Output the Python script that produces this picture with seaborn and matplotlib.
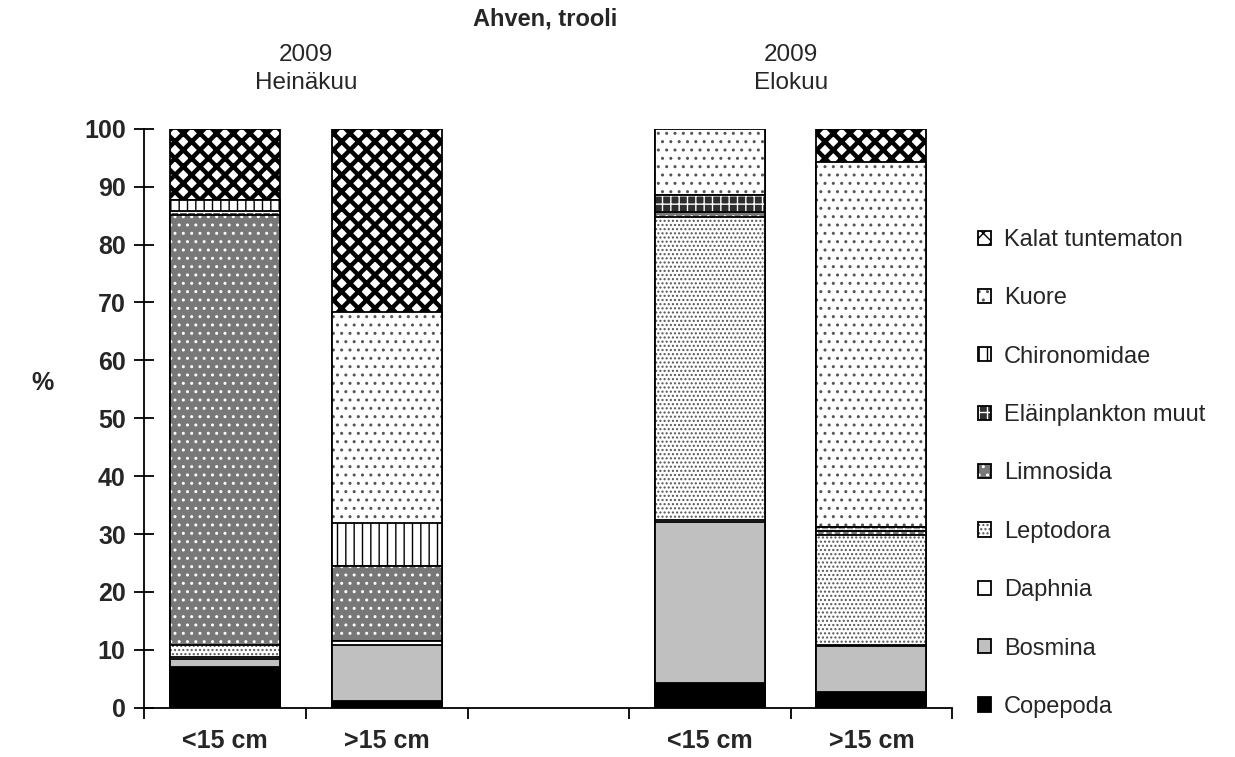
import matplotlib
matplotlib.use("Agg")
import matplotlib.pyplot as plt
from matplotlib.patches import Patch
from matplotlib.transforms import blended_transform_factory
import numpy as np
import pandas as pd
import seaborn as sns

# ---------------- data ----------------
groups = ["H_lt15", "H_gt15", "gap", "E_lt15", "E_gt15"]
group_labels = ["<15 cm", ">15 cm", "", "<15 cm", ">15 cm"]
bar_groups = ["H_lt15", "H_gt15", "E_lt15", "E_gt15"]

species = ["Copepoda", "Bosmina", "Daphnia", "Leptodora", "Limnosida",
           "Eläinplankton muut", "Chironomidae", "Kuore", "Kalat tuntematon"]

copepoda = [7.0, 1.2, 4.2, 2.7]
bosmina = [1.5, 9.6, 27.8, 7.9]
daphnia = [0.3, 0.7, 0.5, 0.3]
leptodora = [2.0, 0.0, 52.2, 19.0]
limnosida = [74.3, 13.0, 1.0, 0.6]
elainplankton_muut = [0.7, 0.0, 2.9, 0.8]
chironomidae = [1.8, 7.4, 0.0, 0.0]
kuore = [0.0, 36.4, 11.4, 63.0]
kalat_tuntematon = [12.4, 31.7, 0.0, 5.7]

values = [copepoda, bosmina, daphnia, leptodora, limnosida,
          elainplankton_muut, chironomidae, kuore, kalat_tuntematon]

yticks = [0, 10, 20, 30, 40, 50, 60, 70, 80, 90, 100]
title = "Ahven, trooli"
period_labels = ["2009\nHeinäkuu", "2009\nElokuu"]

# ---------------- styles ----------------
# facecolor, hatch, hatch colour, hatch linewidth
styles = {
    "Copepoda": ("#000000", None, "#000000", 1.0),
    "Bosmina": ("#c0c0c0", None, "#000000", 1.0),
    "Daphnia": ("#ffffff", None, "#000000", 1.0),
    "Leptodora": ("#ffffff", "....", "#555555", 1.0),
    "Limnosida": ("#787878", "..", "#ffffff", 1.0),
    "Eläinplankton muut": ("#2e2e2e", "++", "#ffffff", 1.0),
    "Chironomidae": ("#ffffff", "||", "#000000", 1.0),
    "Kuore": ("#ffffff", "..", "#555555", 1.0),
    "Kalat tuntematon": ("#ffffff", "xx", "#000000", 3.2),
}

sns.set_theme(style="white")
plt.rcParams["font.family"] = ["Liberation Sans", "DejaVu Sans"]

fig = plt.figure(figsize=(12.35, 7.57), dpi=100)
ax = fig.add_axes([0.117, 0.065, 0.771 - 0.117, 0.83 - 0.065])

cum = np.cumsum(np.array(values), axis=0)

def style_new(patches, hcol, hlw):
    for p in patches:
        p._hatch_color = matplotlib.colors.to_rgba(hcol)
        if hasattr(p, "_hatch_linewidth"):
            p._hatch_linewidth = hlw

for i in range(len(species) - 1, -1, -1):
    sp = species[i]
    fc, hatch, hcol, hlw = styles[sp]
    df = pd.DataFrame({"group": bar_groups, "top": cum[i]})
    n0 = len(ax.patches)
    with plt.rc_context({"hatch.linewidth": hlw}):
        sns.barplot(data=df, x="group", y="top", order=groups, color=fc,
                    saturation=1, width=0.68, edgecolor="black", linewidth=1.3,
                    hatch=hatch, errorbar=None, ax=ax)
    style_new(ax.patches[n0:], hcol, hlw)

# ---------------- axes ----------------
ax.set_ylim(0, 100)
ax.set_xlim(-0.5, len(groups) - 0.5)
ax.set_yticks(yticks)
ax.set_yticklabels([str(t) for t in yticks], fontsize=18, fontweight="bold")
ax.set_xticks(range(len(groups)))
ax.set_xticklabels(group_labels, fontsize=18, fontweight="bold")
ax.set_xticks(np.arange(-0.5, len(groups), 1.0), minor=True)
ax.tick_params(axis="x", which="major", length=0, pad=15)
ax.tick_params(axis="x", which="minor", length=8, width=1.3, direction="out",
               color="black", bottom=True)
ax.tick_params(axis="y", which="major", length=15, width=1.3, direction="inout",
               color="black", left=True, pad=6)
ax.set_xlabel("")
ax.set_ylabel("")
for s in ["top", "right"]:
    ax.spines[s].set_visible(False)
for s in ["left", "bottom"]:
    ax.spines[s].set_color("black")
    ax.spines[s].set_linewidth(1.3)
ax.grid(False)

# ---------------- texts ----------------
fig.text(42 / 1235, 1 - 383 / 757, "%", ha="center", va="center",
         fontsize=18, fontweight="bold")
fig.text(545 / 1235, 1 - 19 / 757, title, ha="center", va="center",
         fontsize=17, fontweight="bold")
tr = blended_transform_factory(ax.transData, fig.transFigure)
ax.text(0.5, 1 - 69 / 757, period_labels[0], transform=tr, ha="center",
        va="center", fontsize=17.5, linespacing=1.3)
ax.text(3.5, 1 - 69 / 757, period_labels[1], transform=tr, ha="center",
        va="center", fontsize=17.5, linespacing=1.3)

# ---------------- legend ----------------
handles = []
for sp in species:
    fc, hatch, hcol, hlw = styles[sp]
    h = Patch(facecolor=fc, edgecolor="black", hatch=hatch, linewidth=1.3,
              label=sp)
    h._hatch_color = matplotlib.colors.to_rgba(hcol)
    if hasattr(h, "_hatch_linewidth"):
        h._hatch_linewidth = min(hlw, 1.5)
    handles.append(h)
handles = handles[::-1]
fig.legend(handles=handles, labels=[h.get_label() for h in handles],
           loc="upper left", bbox_to_anchor=(0.792, 1 - 229 / 757),
           frameon=False, fontsize=17, handlelength=0.55, handleheight=0.55,
           handletextpad=0.55, labelspacing=1.54, borderaxespad=0, borderpad=0)

fig.savefig("out.png", dpi=100)
